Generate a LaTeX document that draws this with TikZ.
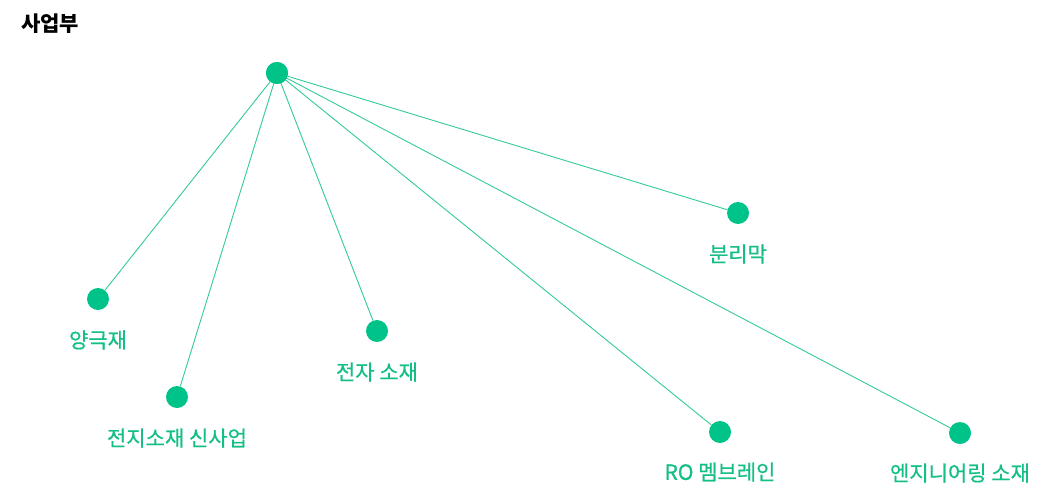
\documentclass[tikz,border=0pt]{standalone}
\usepackage{fontspec}
\newfontfamily\kr{Noto Sans CJK KR}
\newfontfamily\krm[FakeBold=0.5]{Noto Sans CJK KR}
\definecolor{dot}{HTML}{00C389}
\definecolor{edge}{HTML}{33CC95}
\definecolor{lbl}{HTML}{14BF85}
\begin{document}
\begin{tikzpicture}[x=1pt,y=-1pt,
  dotnode/.style={circle,fill=dot,draw=none,minimum size=22pt,inner sep=0pt},
  lab/.style={font=\krm\fontsize{21}{24}\selectfont,text=lbl,inner sep=0pt,anchor=center},
  link/.style={draw=edge,line width=0.9pt}]
\fill[white] (0,0) rectangle (1045,490);
\useasboundingbox (0,0) rectangle (1045,490);
\node[font=\kr\bfseries\fontsize{21}{24}\selectfont,anchor=west,inner sep=0pt] (title) at (21,24) {사업부};
\node[dotnode] (root) at (277,73) {};
\node[dotnode] (a) at (738,213) {};
\node[dotnode] (b) at (98,299) {};
\node[dotnode] (c) at (377,331) {};
\node[dotnode] (d) at (177,397) {};
\node[dotnode] (e) at (720,432) {};
\node[dotnode] (f) at (960,433) {};
\foreach \n in {a,b,c,d,e,f} \draw[link] (root.center) -- (\n);
\node[dotnode] at (277,73) {};
\node[lab] (la) at (738,254) {분리막};
\node[lab] (lb) at (98,340) {양극재};
\node[lab] (lc) at (377,372) {전자 소재};
\node[lab] (ld) at (177,438) {전지소재 신사업};
\node[lab] (le) at (720,472) {RO 멤브레인};
\node[lab] (lf) at (960,473) {엔지니어링 소재};
\end{tikzpicture}
\end{document}
